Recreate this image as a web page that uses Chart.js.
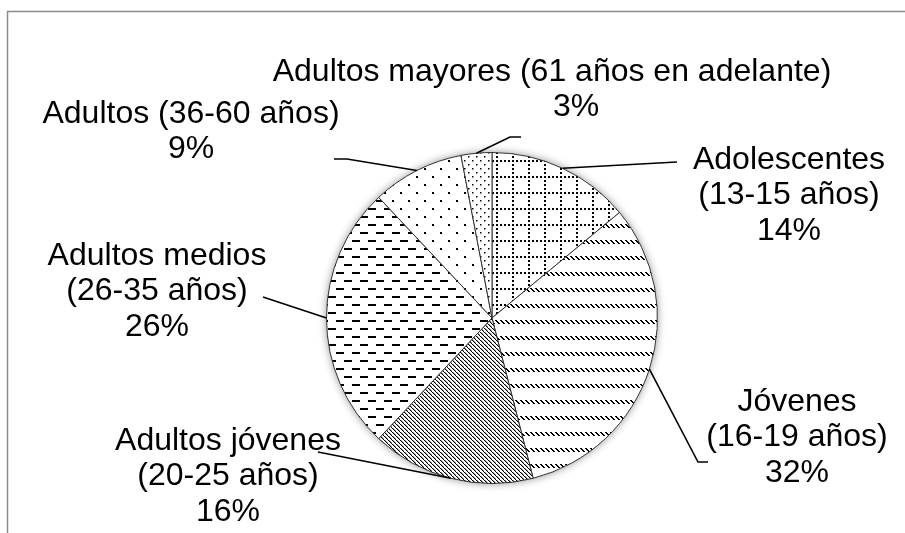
<!DOCTYPE html>
<html>
<head>
<meta charset="utf-8">
<script src="https://cdn.jsdelivr.net/npm/chart.js@4"></script>
<style>
  body { margin: 0; background: #fff; }
  canvas { display: block; }
</style>
</head>
<body>
<canvas id="pieChart" width="905" height="533"></canvas>
<script>
// Datos del gráfico
const categorias = [
    'Adolescentes (13-15 años)',
    'Jóvenes (16-19 años)',
    'Adultos jóvenes (20-25 años)',
    'Adultos medios (26-35 años)',
    'Adultos (36-60 años)',
    'Adultos mayores (61 años en adelante)'
];
const porcentajes = [14, 32, 16, 26, 9, 3];

// Texto de cada etiqueta, línea por línea
const etiquetas = [
    ['Adolescentes', '(13-15 años)', '14%'],
    ['Jóvenes', '(16-19 años)', '32%'],
    ['Adultos jóvenes', '(20-25 años)', '16%'],
    ['Adultos medios', '(26-35 años)', '26%'],
    ['Adultos (36-60 años)', '9%'],
    ['Adultos mayores (61 años en adelante)', '3%']
];

// Posición de cada bloque de texto (centro x, centro de la primera línea)
const posEtiquetas = [
    { x: 789, y: 160 },
    { x: 797, y: 402 },
    { x: 228, y: 441 },
    { x: 157, y: 256 },
    { x: 191, y: 114 },
    { x: 552, y: 72, dx2: 24 }
];
// Puntos de las líneas guía (desde la etiqueta hacia el sector)
const guias = [
    [[677, 162]],
    [[708, 462], [698, 462]],
    [[318, 452]],
    [[263, 297]],
    [[334, 159], [347, 159]],
    [[521, 137], [510, 137]]
];

// Tramas en blanco y negro (como en Excel)
function trama(w, h, dibujar) {
    const c = document.createElement('canvas');
    c.width = w; c.height = h;
    const g = c.getContext('2d');
    g.fillStyle = '#fff';
    g.fillRect(0, 0, w, h);
    g.fillStyle = '#000';
    dibujar(g);
    return document.getElementById('pieChart').getContext('2d').createPattern(c, 'repeat');
}

const tramas = [
    // cuadrícula punteada
    trama(16, 16, g => {
        for (let x = 0; x < 16; x += 4) g.fillRect(x, 0, 2, 2);
        for (let y = 4; y < 16; y += 4) g.fillRect(0, y, 2, 2);
    }),
    // diagonal discontinua hacia abajo
    trama(20, 16, g => {
        for (let x0 = 0; x0 < 20; x0 += 5) {
            for (let j = 0; j < 4; j++) g.fillRect((x0 + j) % 20, j, 2, 1);
        }
    }),
    // diagonal fina hacia abajo
    trama(4, 4, g => {
        for (let i = 0; i < 4; i++) g.fillRect(i, i, 1.4, 1);
    }),
    // guiones horizontales
    trama(16, 16, g => {
        g.fillRect(0, 0, 8, 2);
        g.fillRect(8, 8, 8, 2);
    }),
    // puntos dispersos
    trama(16, 16, g => {
        g.fillRect(0, 0, 2, 2);
        g.fillRect(8, 8, 2, 2);
    }),
    // puntos algo más densos
    trama(8, 8, g => {
        g.fillRect(0, 0, 1.5, 1.5);
        g.fillRect(4, 4, 1.5, 1.5);
    })
];

// Sombra suave alrededor de la tarta
const sombraPlugin = {
    id: 'sombra',
    beforeDatasetsDraw(chart) {
        const arc = chart.getDatasetMeta(0).data[0];
        if (!arc) return;
        const ctx = chart.ctx;
        ctx.save();
        ctx.shadowColor = 'rgba(0, 0, 0, 0.45)';
        ctx.shadowBlur = 9;
        ctx.fillStyle = '#fff';
        ctx.beginPath();
        ctx.arc(arc.x, arc.y, arc.outerRadius, 0, Math.PI * 2);
        ctx.fill();
        ctx.restore();
    }
};

// Etiquetas, líneas guía y marco
const etiquetasPlugin = {
    id: 'etiquetas',
    afterDraw(chart) {
        const ctx = chart.ctx;
        const arcs = chart.getDatasetMeta(0).data;
        ctx.save();

        // marco gris
        ctx.strokeStyle = '#8c8c8c';
        ctx.lineWidth = 1.5;
        ctx.beginPath();
        ctx.moveTo(7.5, 533);
        ctx.lineTo(7.5, 11.5);
        ctx.lineTo(905, 11.5);
        ctx.stroke();

        // líneas guía
        ctx.strokeStyle = '#000';
        ctx.lineWidth = 1.6;
        arcs.forEach((arc, i) => {
            const mid = (arc.startAngle + arc.endAngle) / 2;
            const px = arc.x + Math.cos(mid) * arc.outerRadius;
            const py = arc.y + Math.sin(mid) * arc.outerRadius;
            const pts = guias[i];
            ctx.beginPath();
            ctx.moveTo(pts[0][0], pts[0][1]);
            for (let k = 1; k < pts.length; k++) ctx.lineTo(pts[k][0], pts[k][1]);
            ctx.lineTo(px, py);
            ctx.stroke();
        });

        // textos
        ctx.fillStyle = '#000';
        ctx.font = '32px "Liberation Sans", Arial, sans-serif';
        ctx.textAlign = 'center';
        ctx.textBaseline = 'middle';
        etiquetas.forEach((lineas, i) => {
            const p = posEtiquetas[i];
            lineas.forEach((t, k) => {
                const dx = (k > 0 && p.dx2) ? p.dx2 : 0;
                ctx.fillText(t, p.x + dx, p.y + k * 35.5);
            });
        });
        ctx.restore();
    }
};

new Chart(document.getElementById('pieChart'), {
    type: 'pie',
    data: {
        labels: categorias,
        datasets: [{
            data: porcentajes,
            backgroundColor: tramas,
            borderColor: '#333',
            borderWidth: 1
        }]
    },
    options: {
        responsive: false,
        animation: false,
        layout: {
            padding: { top: 152, bottom: 49, left: 326, right: 247 }
        },
        plugins: {
            legend: { display: false },
            tooltip: { enabled: false }
        }
    },
    plugins: [sombraPlugin, etiquetasPlugin]
});
</script>
</body>
</html>
